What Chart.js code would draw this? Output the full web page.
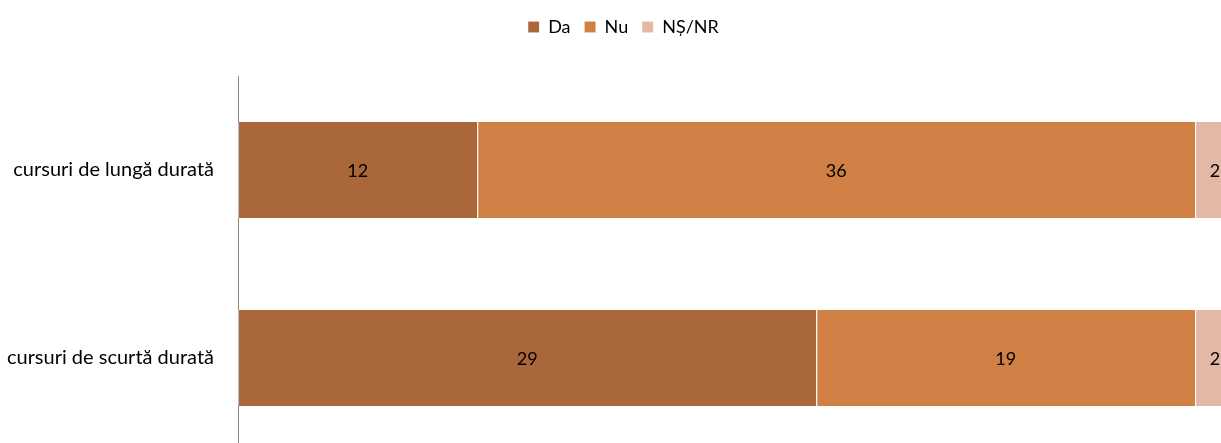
<!DOCTYPE html>
<html><head><meta charset="utf-8">
<script src="https://cdn.jsdelivr.net/npm/chart.js@4/dist/chart.umd.min.js"></script>
<style>
html,body{margin:0;padding:0;background:#fff;overflow:hidden;width:1221px;height:443px}
#c{position:absolute;left:0;top:0}
</style></head>
<body>
<canvas id="c" width="1240" height="460"></canvas>
<script>
const categories = ["cursuri de lungă durată", "cursuri de scurtă durată"];
const seriesNames = ["Da", "Nu", "NȘ/NR"];
const da = [12, 29];
const nu = [36, 19];
const nsnr = [2, 2];
const colors = ["#A9673A", "#D07F45", "#E3B9A5"];
const FONT = "Lato, 'Open Sans', sans-serif";

const valueLabels = {
  id: 'valueLabels',
  afterDatasetsDraw(chart) {
    const ctx = chart.ctx;
    ctx.save();
    ctx.font = "18px " + FONT;
    ctx.fillStyle = "#000";
    ctx.textAlign = "center";
    ctx.textBaseline = "middle";
    chart.data.datasets.forEach((ds, i) => {
      const meta = chart.getDatasetMeta(i);
      meta.data.forEach((el, j) => {
        const v = ds.data[j];
        const cx = (el.x + el.base) / 2;
        ctx.fillText(String(v), cx, el.y + 1);
      });
    });
    ctx.restore();
  }
};

const legendTweak = {
  id: 'legendTweak',
  beforeInit(chart) {
    const fit = chart.legend.fit;
    chart.legend.fit = function() { fit.bind(chart.legend)(); this.height = 72; };
  },
  afterLayout(chart) {
    chart.legend.left += 6;
    chart.legend.right += 6;
  }
};

new Chart(document.getElementById('c'), {
  type: 'bar',
  data: {
    labels: categories,
    datasets: [
      { label: seriesNames[0], data: da, backgroundColor: colors[0] },
      { label: seriesNames[1], data: nu, backgroundColor: colors[1] },
      { label: seriesNames[2], data: nsnr, backgroundColor: colors[2] }
    ].map(d => Object.assign(d, { borderColor: 'rgba(255,255,255,0.45)', borderWidth: {left: 1, right: 0, top: 0, bottom: 0}, borderSkipped: false, categoryPercentage: 1, barPercentage: 0.51 }))
  },
  options: {
    indexAxis: 'y',
    responsive: false,
    animation: false,
    layout: { padding: { left: 0, right: 5, top: 4, bottom: 8 } },
    plugins: {
      legend: {
        position: 'top',
        labels: { boxWidth: 11, boxHeight: 11, padding: 14, color: '#000', font: { family: FONT, size: 18 } }
      },
      tooltip: { enabled: false }
    },
    scales: {
      x: { stacked: true, min: 0, max: 50, display: false },
      y: {
        stacked: true,
        grid: { display: false, drawTicks: false },
        border: { display: true, color: '#888', width: 1 },
        ticks: { color: '#000', padding: 24, font: { family: FONT, size: 20 } },
        afterFit(s) { s.width = 238; s.paddingTop = 0; s.paddingBottom = 0; }
      }
    }
  },
  plugins: [valueLabels, legendTweak]
});
</script>
</body></html>
